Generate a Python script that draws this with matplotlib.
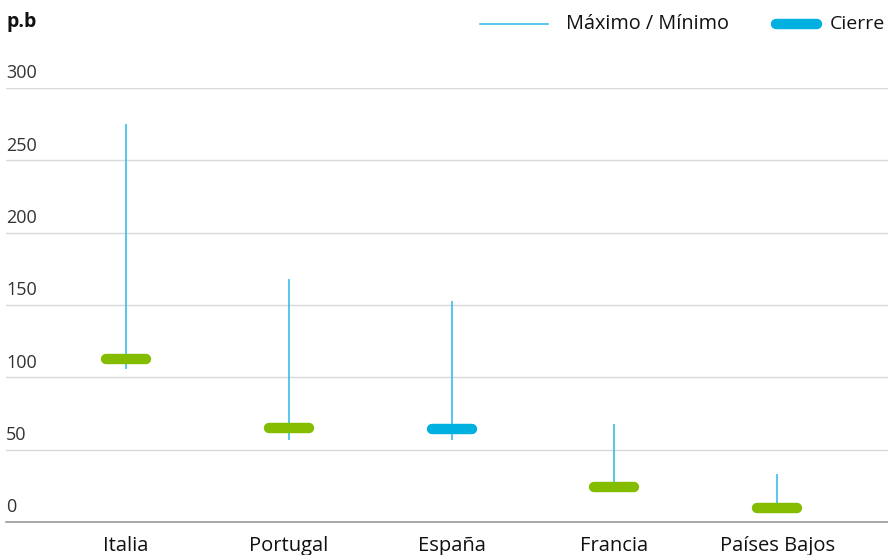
import matplotlib.pyplot as plt
from matplotlib.lines import Line2D

# data (p.b)
paises = ['Italia', 'Portugal', 'España', 'Francia', 'Países Bajos']
maximo = [275, 168, 153, 68, 33]
minimo = [106, 57, 57, 21, 6]
cierre = [113, 65, 64, 24, 10]
colores_cierre = ['#84bd00', '#84bd00', '#00b0e0', '#84bd00', '#84bd00']
y_ticks = [0, 50, 100, 150, 200, 250, 300]

plt.rcParams['font.family'] = ['Open Sans', 'DejaVu Sans']

fig = plt.figure(figsize=(8.88, 5.55), dpi=100)
ax = fig.add_axes([6 / 888, 1 - 522 / 555, 882 / 888, (522 - 88) / 555])

x = list(range(len(paises)))

# max / min lines
ax.vlines(x, minimo, maximo, color='#29b6e8', linewidth=1.1, zorder=2)

# close markers (rounded thick bars)
half = 0.123
for i, c in enumerate(cierre):
    ax.plot([i - half, i + half], [c, c], color=colores_cierre[i], linewidth=7.5,
            solid_capstyle='round', zorder=3)

ax.set_ylim(0, 300)
ax.set_xlim(-0.737, 4.68)

# grid
for v in y_ticks[1:]:
    ax.axhline(v, color='#d9d9d9', linewidth=1, zorder=1)
ax.set_yticks([])
for v in y_ticks:
    ax.annotate(str(v), xy=(0, v), xycoords=('axes fraction', 'data'),
                xytext=(0, 4), textcoords='offset points',
                ha='left', va='bottom', fontsize=13, color='#333333')

ax.set_xticks(x)
ax.set_xticklabels(paises, fontsize=14.5, color='#111111', fontweight='medium')
ax.tick_params(axis='x', length=0, pad=10)

for s in ['top', 'right', 'left']:
    ax.spines[s].set_visible(False)
ax.spines['bottom'].set_color('#9a9a9a')
ax.spines['bottom'].set_linewidth(1.2)

# unit label
fig.text(6 / 888, 1 - 22 / 555, 'p.b', fontsize=14, fontweight='bold',
         color='#111111', ha='left', va='center')

# manual legend
fig.add_artist(Line2D([480 / 888, 548 / 888], [1 - 24 / 555] * 2,
                      color='#29b6e8', linewidth=1.1, transform=fig.transFigure))
fig.text(566 / 888, 1 - 24 / 555, 'Máximo / Mínimo', fontsize=14.3,
         color='#111111', ha='left', va='center')
fig.add_artist(Line2D([776 / 888, 817 / 888], [1 - 24 / 555] * 2,
                      color='#00b0e0', linewidth=7.5, solid_capstyle='round',
                      transform=fig.transFigure))
fig.text(830 / 888, 1 - 24 / 555, 'Cierre', fontsize=14,
         color='#111111', ha='left', va='center')

fig.savefig('out.png', dpi=100)
